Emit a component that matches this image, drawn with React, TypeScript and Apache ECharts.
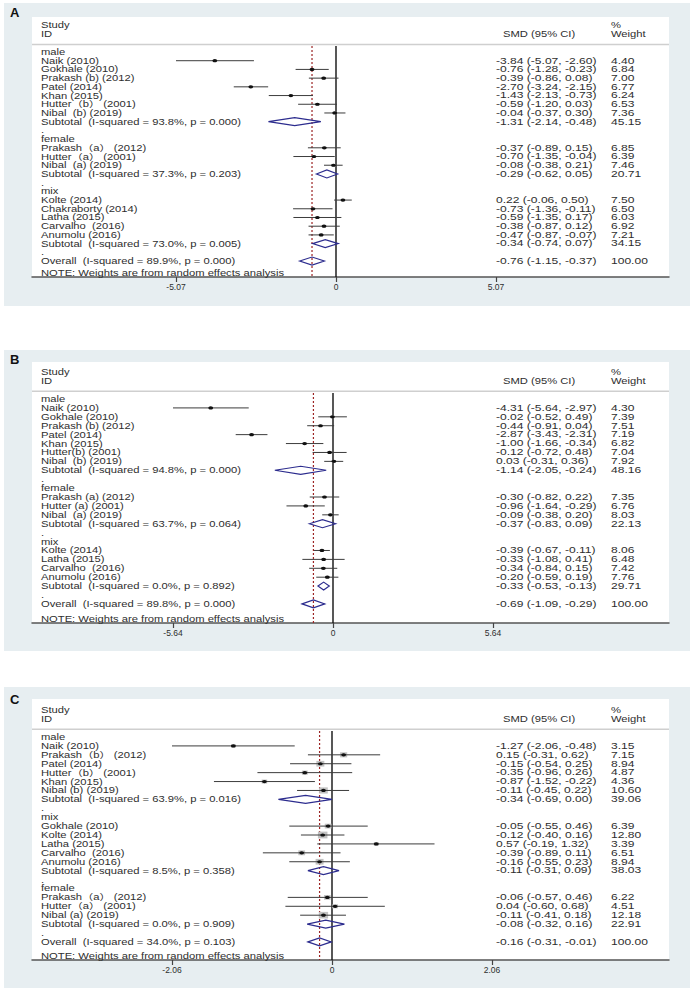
import React, { useEffect, useRef } from "react";
import * as echarts from "echarts";

// ---------- Panel A data ----------
const A_LABELS = [
  "male", "Naik (2010)", "Gokhale (2010)", "Prakash (b) (2012)", "Patel (2014)", "Khan (2015)",
  "Hutter（b） (2001)", "Nibal  (b) (2019)", "Subtotal  (I-squared = 93.8%, p = 0.000)", ".",
  "female", "Prakash（a） (2012)", "Hutter（a） (2001)", "Nibal  (a) (2019)",
  "Subtotal  (I-squared = 37.3%, p = 0.203)", ".",
  "mix", "Kolte (2014)", "Chakraborty (2014)", "Latha (2015)", "Carvalho  (2016)", "Anumolu (2016)",
  "Subtotal  (I-squared = 73.0%, p = 0.005)", ".", "Overall  (I-squared = 89.9%, p = 0.000)",
];
const A_EST = [null, -3.84, -0.76, -0.39, -2.70, -1.43, -0.59, -0.04, -1.31, null, null, -0.37, -0.70, -0.08, -0.29, null, null, 0.22, -0.73, -0.59, -0.38, -0.47, -0.34, null, -0.76];
const A_LO = [null, -5.07, -1.28, -0.86, -3.24, -2.13, -1.20, -0.37, -2.14, null, null, -0.89, -1.35, -0.38, -0.62, null, null, -0.06, -1.36, -1.35, -0.87, -0.87, -0.74, null, -1.15];
const A_HI = [null, -2.60, -0.23, 0.08, -2.15, -0.73, 0.03, 0.30, -0.48, null, null, 0.15, -0.04, 0.21, 0.05, null, null, 0.50, -0.11, 0.17, 0.12, -0.07, 0.07, null, -0.37];
const A_W = [null, 4.40, 6.84, 7.00, 6.77, 6.24, 6.53, 7.36, 45.15, null, null, 6.85, 6.39, 7.46, 20.71, null, null, 7.50, 6.50, 6.03, 6.92, 7.21, 34.15, null, 100.00];
const A_TICKS = [-5.07, 0, 5.07];

// ---------- Panel B data ----------
const B_LABELS = [
  "male", "Naik (2010)", "Gokhale (2010)", "Prakash (b) (2012)", "Patel (2014)", "Khan (2015)",
  "Hutter(b) (2001)", "Nibal  (b) (2019)", "Subtotal  (I-squared = 94.8%, p = 0.000)", ".",
  "female", "Prakash (a) (2012)", "Hutter (a) (2001)", "Nibal  (a) (2019)",
  "Subtotal  (I-squared = 63.7%, p = 0.064)", ".",
  "mix", "Kolte (2014)", "Latha (2015)", "Carvalho  (2016)", "Anumolu (2016)",
  "Subtotal  (I-squared = 0.0%, p = 0.892)", ".", "Overall  (I-squared = 89.8%, p = 0.000)",
];
const B_EST = [null, -4.31, -0.02, -0.44, -2.87, -1.00, -0.12, 0.03, -1.14, null, null, -0.30, -0.96, -0.09, -0.37, null, null, -0.39, -0.33, -0.34, -0.20, -0.33, null, -0.69];
const B_LO = [null, -5.64, -0.52, -0.91, -3.43, -1.66, -0.72, -0.31, -2.05, null, null, -0.82, -1.64, -0.38, -0.83, null, null, -0.67, -1.08, -0.84, -0.59, -0.53, null, -1.09];
const B_HI = [null, -2.97, 0.49, 0.04, -2.31, -0.34, 0.48, 0.36, -0.24, null, null, 0.22, -0.29, 0.20, 0.09, null, null, -0.11, 0.41, 0.15, 0.19, -0.13, null, -0.29];
const B_W = [null, 4.30, 7.39, 7.51, 7.19, 6.82, 7.04, 7.92, 48.16, null, null, 7.35, 6.76, 8.03, 22.13, null, null, 8.06, 6.48, 7.42, 7.76, 29.71, null, 100.00];
const B_TICKS = [-5.64, 0, 5.64];

// ---------- Panel C data ----------
const C_LABELS = [
  "male", "Naik (2010)", "Prakash（b） (2012)", "Patel (2014)", "Hutter（b） (2001)", "Khan (2015)",
  "Nibal (b) (2019)", "Subtotal  (I-squared = 63.9%, p = 0.016)", ".",
  "mix", "Gokhale (2010)", "Kolte (2014)", "Latha (2015)", "Carvalho  (2016)", "Anumolu (2016)",
  "Subtotal  (I-squared = 8.5%, p = 0.358)", ".",
  "female", "Prakash（a） (2012)", "Hutter（a） (2001)", "Nibal (a) (2019)",
  "Subtotal  (I-squared = 0.0%, p = 0.909)", ".", "Overall  (I-squared = 34.0%, p = 0.103)",
];
const C_EST = [null, -1.27, 0.15, -0.15, -0.35, -0.87, -0.11, -0.34, null, null, -0.05, -0.12, 0.57, -0.39, -0.16, -0.11, null, null, -0.06, 0.04, -0.11, -0.08, null, -0.16];
const C_LO = [null, -2.06, -0.31, -0.54, -0.96, -1.52, -0.45, -0.69, null, null, -0.55, -0.40, -0.19, -0.89, -0.55, -0.31, null, null, -0.57, -0.60, -0.41, -0.32, null, -0.31];
const C_HI = [null, -0.48, 0.62, 0.25, 0.26, -0.22, 0.22, 0.00, null, null, 0.46, 0.16, 1.32, 0.11, 0.23, 0.09, null, null, 0.46, 0.68, 0.18, 0.16, null, -0.01];
const C_W = [null, 3.15, 7.15, 8.94, 4.87, 4.36, 10.60, 39.06, null, null, 6.39, 12.80, 3.39, 6.51, 8.94, 38.03, null, null, 6.22, 4.51, 12.18, 22.91, null, 100.00];
const C_TICKS = [-2.06, 0, 2.06];

// ---------- layout ----------
const GRID_LEFT = 32;
const GRID_RIGHT = 669;
const LABEL_X = 41;
const VAL_X = 496;
const WT_X = 611;
const SMD_X = 503;
const FONT_FAMILY = '"Liberation Sans", Arial, "Noto Sans CJK SC", sans-serif';
const SX_LABEL = 1.32;
const SX_NUM = 1.42;
const TEXT_COLOR = "#2e2e2e";
const PANEL_BG = "#e7eef1";

const PANELS = [
  { letter: "A", labels: A_LABELS, est: A_EST, lo: A_LO, hi: A_HI, w: A_W, ticks: A_TICKS,
    top: 17, axisY: 277, row0: 52, step: 8.71, zero: 336, boxTop: 3, boxBottom: 306, letterY: 6, sq: 1.0 },
  { letter: "B", labels: B_LABELS, est: B_EST, lo: B_LO, hi: B_HI, w: B_W, ticks: B_TICKS,
    top: 362, axisY: 623, row0: 399, step: 8.91, zero: 333, boxTop: 350, boxBottom: 651, letterY: 353, sq: 1.0 },
  { letter: "C", labels: C_LABELS, est: C_EST, lo: C_LO, hi: C_HI, w: C_W, ticks: C_TICKS,
    top: 699, axisY: 960, row0: 737, step: 8.91, zero: 332, boxTop: 687, boxBottom: 988, letterY: 693, sq: 1.9 },
];

function txt(x: number, y: number, text: string, sx: number, extra: any = {}) {
  return {
    type: "text",
    x,
    y,
    scaleX: sx,
    silent: true,
    style: {
      text,
      x: 0,
      y: 0,
      fill: TEXT_COLOR,
      fontSize: 8.5,
      fontFamily: FONT_FAMILY,
      align: "left",
      verticalAlign: "middle",
      ...extra,
    },
  };
}

function buildOption() {
  const grid: any[] = [];
  const xAxis: any[] = [];
  const yAxis: any[] = [];
  const series: any[] = [];
  const graphic: any[] = [];

  PANELS.forEach((p, k) => {
    const ppu = 160 / p.ticks[2];
    const xMin = (GRID_LEFT - p.zero) / ppu;
    const xMax = (GRID_RIGHT - p.zero) / ppu;
    const yMin = (p.top - p.row0) / p.step;
    const yMax = (p.axisY - p.row0) / p.step;
    const overall = p.est[p.est.length - 1] as number;

    graphic.push({
      type: "rect",
      z: -10,
      shape: { x: 4, y: p.boxTop, width: 686, height: p.boxBottom - p.boxTop },
      style: { fill: PANEL_BG },
      silent: true,
    });
    graphic.push({
      type: "text",
      z: 10,
      x: 10,
      y: p.letterY,
      style: { text: p.letter, fill: "#111", fontSize: 13, fontWeight: "bold", fontFamily: "Liberation Sans, Arial, sans-serif" },
      silent: true,
    });

    grid.push({
      left: GRID_LEFT,
      top: p.top,
      width: GRID_RIGHT - GRID_LEFT,
      height: p.axisY - p.top,
      show: true,
      backgroundColor: "#ffffff",
      borderWidth: 0,
    });
    xAxis.push({
      type: "value",
      gridIndex: k,
      min: xMin,
      max: xMax,
      axisLine: { show: true, onZero: false, lineStyle: { color: "#555", width: 1.5 } },
      axisTick: { show: true, customValues: p.ticks, length: 5, lineStyle: { color: "#444", width: 1.2 } },
      axisLabel: {
        show: true,
        customValues: p.ticks,
        fontSize: 8.5,
        color: TEXT_COLOR,
        margin: 5,
        fontFamily: "Liberation Sans, Arial, sans-serif",
        formatter: (v: number) => String(v),
      },
      splitLine: { show: false },
    });
    yAxis.push({ type: "value", gridIndex: k, inverse: true, min: yMin, max: yMax, show: false });

    // frame: headers, separator, zero line, overall dashed line, note
    series.push({
      type: "custom",
      xAxisIndex: k,
      yAxisIndex: k,
      z: 1,
      clip: false,
      silent: true,
      data: [[0, 0]],
      encode: { x: 0, y: 1 },
      renderItem: (_params: any, api: any) => {
        const yr = (r: number) => api.coord([0, r])[1];
        const x0 = api.coord([0, 0])[0];
        const xo = api.coord([overall, 0])[0];
        const yTop = yr(-0.68);
        const yBot = yr(yMax);
        return {
          type: "group",
          children: [
            txt(LABEL_X, yr(-3.05), "Study", SX_LABEL),
            txt(LABEL_X, yr(-2.05), "ID", SX_LABEL),
            txt(SMD_X, yr(-2.05), "SMD (95% CI)", SX_LABEL),
            txt(WT_X, yr(-3.05), "%", SX_LABEL),
            txt(WT_X, yr(-2.05), "Weight", SX_LABEL),
            {
              type: "line",
              shape: { x1: GRID_LEFT, y1: yr(-0.87), x2: GRID_RIGHT, y2: yr(-0.87) },
              style: { stroke: "#cfcfcf", lineWidth: 1.5 },
            },
            {
              type: "line",
              shape: { x1: x0, y1: yTop, x2: x0, y2: yBot },
              style: { stroke: "#111", lineWidth: 1.4 },
            },
            {
              type: "line",
              shape: { x1: xo, y1: yTop, x2: xo, y2: yBot },
              style: { stroke: "#9c2424", lineWidth: 1.2, lineDash: [2, 2] },
            },
            txt(LABEL_X, yBot - 3.5, "NOTE: Weights are from random effects analysis", SX_LABEL),
          ],
        };
      },
    });

    // rows
    series.push({
      type: "custom",
      xAxisIndex: k,
      yAxisIndex: k,
      z: 2,
      clip: false,
      silent: true,
      data: p.labels.map((_l, i) => [p.est[i] ?? 0, i]),
      encode: { x: 0, y: 1 },
      renderItem: (params: any, api: any) => {
        const i = params.dataIndex;
        const y = api.coord([0, i])[1];
        const label = p.labels[i];
        const children: any[] = [txt(LABEL_X, y, label, SX_LABEL)];
        const e = p.est[i];
        if (e != null) {
          const l = p.lo[i] as number;
          const h = p.hi[i] as number;
          const wt = p.w[i] as number;
          children.push(txt(VAL_X, y, `${e.toFixed(2)} (${l.toFixed(2)}, ${h.toFixed(2)})`, SX_NUM));
          children.push(txt(WT_X, y, wt.toFixed(2), SX_NUM));
          const xe = api.coord([e, i])[0];
          const xl = api.coord([l, i])[0];
          const xh = api.coord([h, i])[0];
          if (/^(Subtotal|Overall)/.test(label)) {
            children.push({
              type: "polygon",
              shape: { points: [[xl, y], [xe, y - 4], [xh, y], [xe, y + 4]] },
              style: { fill: "rgba(255,255,255,0)", stroke: "#2c2c8e", lineWidth: 1.2 },
            });
          } else {
            const hh = p.sq * Math.sqrt(wt);
            const ww = hh * 1.4;
            children.push({
              type: "rect",
              shape: { x: xe - ww / 2, y: y - hh / 2, width: ww, height: hh },
              style: { fill: "#c2c2c2" },
            });
            children.push({
              type: "line",
              shape: { x1: xl, y1: y, x2: xh, y2: y },
              style: { stroke: "#3c3c3c", lineWidth: 1 },
            });
            children.push({
              type: "ellipse",
              shape: { cx: xe, cy: y, rx: 2.4, ry: 1.6 },
              style: { fill: "#111" },
            });
          }
        }
        return { type: "group", children };
      },
    });
  });

  return {
    animation: false,
    backgroundColor: "#ffffff",
    grid,
    xAxis,
    yAxis,
    series,
    graphic,
  };
}

export default function App() {
  const ref = useRef<HTMLDivElement>(null);
  useEffect(() => {
    if (!ref.current) return;
    const chart = echarts.init(ref.current, null, { renderer: "svg" });
    chart.setOption(buildOption() as any);
    return () => chart.dispose();
  }, []);
  return (
    <div
      ref={ref}
      style={{ position: "absolute", left: 0, top: 0, width: 694, height: 991 }}
    />
  );
}
